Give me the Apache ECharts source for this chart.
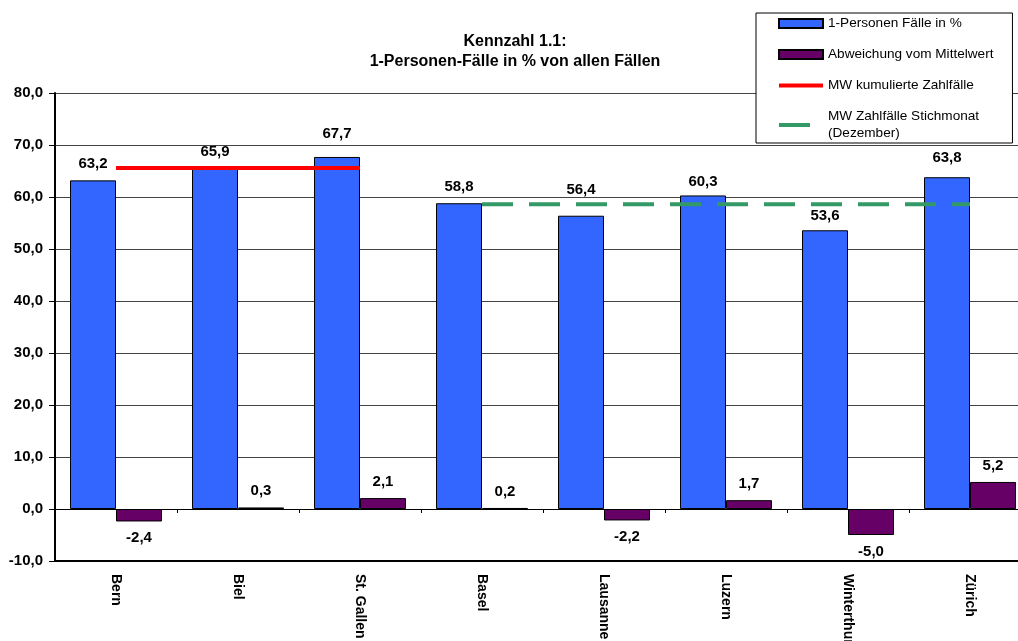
<!DOCTYPE html>
<html>
<head>
<meta charset="utf-8">
<script src="https://cdn.jsdelivr.net/npm/echarts@6/dist/echarts.min.js"></script>
<style>
  html, body { margin: 0; padding: 0; background: #fff; overflow: hidden; }
  #chart { width: 1018px; height: 641px; }
</style>
</head>
<body>
<div id="chart"></div>
<script>
// Städte (Kategorien)
const cities = ['Bern', 'Biel', 'St. Gallen', 'Basel', 'Lausanne', 'Luzern', 'Winterthur', 'Zürich'];
// 1-Personen-Fälle in % von allen Fällen
const onePersonShare = [63.2, 65.9, 67.7, 58.8, 56.4, 60.3, 53.6, 63.8];
// Abweichung vom jeweiligen Mittelwert
const deviation = [-2.4, 0.3, 2.1, 0.2, -2.2, 1.7, -5.0, 5.2];
// Mittelwerte: kumulierte Zahlfälle (Bern, Biel, St. Gallen) und Stichmonat (übrige Städte)
const mwKumuliert = [65.6, 65.6, 65.6, null, null, null, null, null];
const mwStichmonat = [null, null, null, 58.6, 58.6, 58.6, 58.6, 58.6];
// Y-Achse
const yMin = -10, yMax = 80, yStep = 10;

const FONT = '"Liberation Sans", Arial, sans-serif';
const fmt = v => Number(v).toFixed(1).replace('.', ',');

// manual vertical nudges of single value labels (px, negative = up), keeps them clear of the lines
const labelNudge = { 'Biel': 2, 'St. Gallen': -7, 'Lausanne': -9, 'Luzern': 3, 'Winterthur': 2, 'Zürich': -3 };

const labelStyle = {
  show: true,
  fontFamily: FONT,
  fontSize: 15,
  fontWeight: 'bold',
  color: '#000',
  distance: 9,
  formatter: p => fmt(p.value)
};

const chart = echarts.init(document.getElementById('chart'), null, { renderer: 'canvas' });

chart.setOption({
  animation: false,
  backgroundColor: '#fff',
  title: {
    text: 'Kennzahl 1.1:\n1-Personen-Fälle in % von allen Fällen',
    left: 510,
    top: 27,
    textAlign: 'center',
    textStyle: {
      fontFamily: FONT,
      fontSize: 16,
      fontWeight: 'bold',
      color: '#000',
      lineHeight: 20
    }
  },
  legend: {
    orient: 'vertical',
    left: 756,
    top: 13,
    padding: [2, 19, 1, 22],
    itemGap: 14,
    itemWidth: 44,
    itemHeight: 9,
    symbolKeepAspect: true,
    backgroundColor: '#fff',
    borderColor: '#000',
    borderWidth: 1,
    borderRadius: 0,
    textStyle: { fontFamily: FONT, fontSize: 13.6, color: '#000', lineHeight: 17 },
    formatter: name => name.replace(' (Dezember)', '\n(Dezember)'),
    data: [
      { name: '1-Personen Fälle in %', icon: 'rect' },
      { name: 'Abweichung vom Mittelwert', icon: 'rect' },
      { name: 'MW kumulierte Zahlfälle', icon: 'path://M0,0H46V4H0Z' },
      { name: 'MW Zahlfälle Stichmonat (Dezember)', icon: 'path://M0,0H31V4H0Z M44,4L44,4Z' }
    ]
  },
  // the plot area runs slightly past the right edge of the canvas
  grid: {
    left: 55,
    top: 93,
    width: 976,
    height: 468,
    containLabel: false,
    outerBoundsMode: 'none'
  },
  xAxis: [
    {
      type: 'category',
      data: cities,
      position: 'bottom',
      boundaryGap: true,
      axisLine: { onZero: false, lineStyle: { color: '#000', width: 2 } },
      axisTick: { show: false },
      axisLabel: {
        rotate: -90,
        margin: 13,
        fontFamily: FONT,
        fontSize: 14,
        fontWeight: 'bold',
        color: '#000',
        interval: 0
      },
      splitLine: { show: false }
    },
    {
      type: 'category',
      data: cities,
      position: 'bottom',
      boundaryGap: true,
      axisLine: { onZero: true, onZeroAxisIndex: 0, lineStyle: { color: '#000', width: 1 } },
      axisTick: { show: true, inside: false, length: 4, lineStyle: { color: '#000' } },
      axisLabel: { show: false },
      splitLine: { show: false }
    }
  ],
  yAxis: {
    type: 'value',
    min: yMin,
    max: yMax,
    interval: yStep,
    axisLine: { show: true, lineStyle: { color: '#000', width: 2 } },
    axisTick: { show: true, inside: false, length: 6, lineStyle: { color: '#000' } },
    axisLabel: {
      margin: 12,
      fontFamily: FONT,
      fontSize: 15,
      fontWeight: 'bold',
      color: '#000',
      formatter: v => fmt(v)
    },
    splitLine: { show: true, lineStyle: { color: '#444', width: 1 } }
  },
  series: [
    {
      name: '1-Personen Fälle in %',
      type: 'bar',
      xAxisIndex: 0,
      barWidth: 46,
      barGap: '0%',
      data: onePersonShare.map((v, i) => ({
        value: v,
        label: { offset: [0, labelNudge[cities[i]] || 0] }
      })),
      itemStyle: { color: '#3366FF', borderColor: '#000', borderWidth: 1 },
      label: Object.assign({}, labelStyle, { position: 'top' }),
      z: 2
    },
    {
      name: 'Abweichung vom Mittelwert',
      type: 'bar',
      xAxisIndex: 0,
      barWidth: 46,
      barGap: '0%',
      data: deviation.map(v => ({
        value: v,
        label: { position: v < 0 ? 'bottom' : 'top' }
      })),
      itemStyle: { color: '#660066', borderColor: '#000', borderWidth: 1 },
      label: labelStyle,
      z: 2
    },
    {
      name: 'MW kumulierte Zahlfälle',
      type: 'line',
      xAxisIndex: 0,
      data: mwKumuliert,
      symbol: 'none',
      connectNulls: false,
      lineStyle: { color: '#FF0000', width: 4, cap: 'butt' },
      itemStyle: { color: '#FF0000' },
      z: 5
    },
    {
      name: 'MW Zahlfälle Stichmonat (Dezember)',
      type: 'line',
      xAxisIndex: 0,
      data: mwStichmonat,
      symbol: 'none',
      connectNulls: false,
      lineStyle: { color: '#339966', width: 4, type: [31, 16], cap: 'butt' },
      itemStyle: { color: '#339966' },
      z: 5
    }
  ]
});
</script>
</body>
</html>
